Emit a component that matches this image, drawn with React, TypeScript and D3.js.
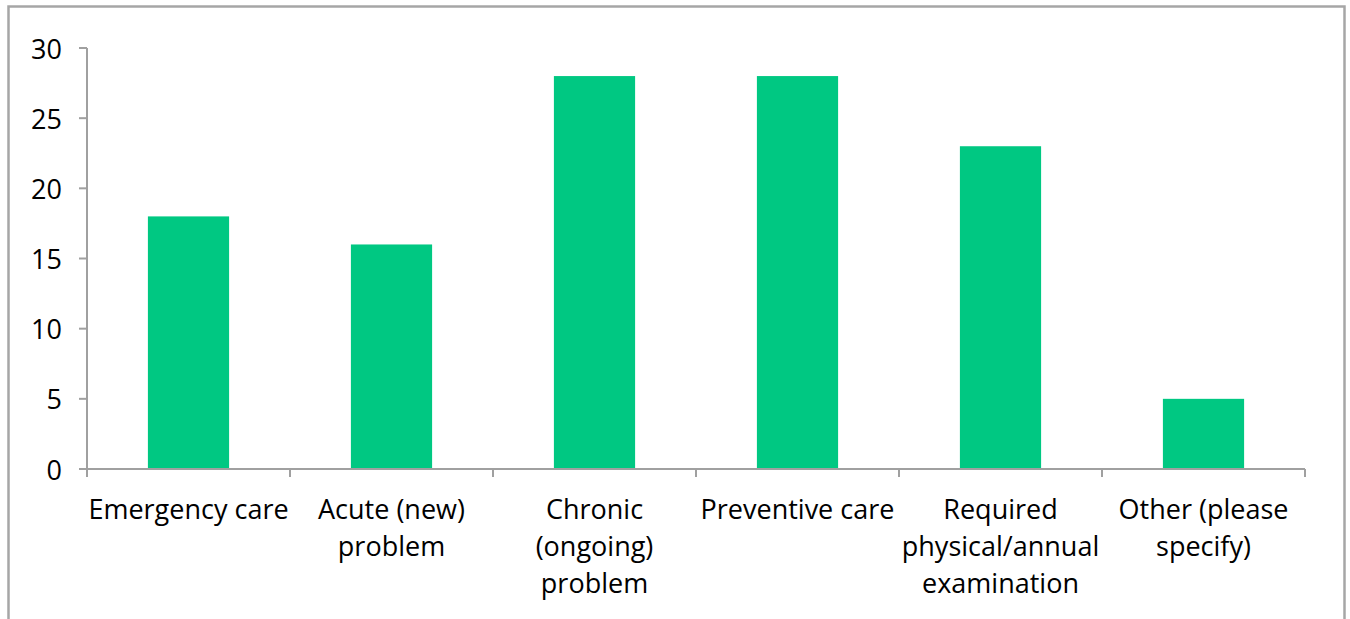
import { useEffect, useRef } from "react";
import * as d3 from "d3";

const categories = [
  "Emergency care",
  "Acute (new) problem",
  "Chronic (ongoing) problem",
  "Preventive care",
  "Required physical/annual examination",
  "Other (please specify)",
];
const categoryLines = [
  ["Emergency care"],
  ["Acute (new)", "problem"],
  ["Chronic", "(ongoing)", "problem"],
  ["Preventive care"],
  ["Required", "physical/annual", "examination"],
  ["Other (please", "specify)"],
];
const values = [18, 16, 28, 28, 23, 5];
const yTicks = [0, 5, 10, 15, 20, 25, 30];

export default function App() {
  const svgRef = useRef<SVGSVGElement>(null);

  useEffect(() => {
    document.body.style.margin = "0";
    if (!svgRef.current) return;
    const width = 1350;
    const height = 619;
    const marginLeft = 87;
    const marginRight = 45;
    const marginTop = 48;
    const axisY = 469;
    const font = "'Open Sans', 'Noto Sans', sans-serif";
    const fontSize = "27px";
    const axisColor = "#a0a0a0";

    const svg = d3.select(svgRef.current);
    svg.selectAll("*").remove();
    svg.attr("width", width).attr("height", height);

    // Outer frame
    svg.append("rect")
      .attr("x", 8.5)
      .attr("y", 6.5)
      .attr("width", 1336)
      .attr("height", 640)
      .attr("fill", "white")
      .attr("stroke", "#a6a6a6")
      .attr("stroke-width", 2.5);

    const x = d3.scaleBand()
      .domain(categories)
      .range([marginLeft, width - marginRight])
      .paddingInner(0.6)
      .paddingOuter(0.3);

    const band = d3.scaleBand()
      .domain(categories)
      .range([marginLeft, width - marginRight]);

    const y = d3.scaleLinear().domain([0, 30]).range([axisY, marginTop]);

    // Bars
    svg.selectAll(".bar")
      .data(values)
      .join("rect")
      .attr("class", "bar")
      .attr("x", (_, i) => x(categories[i]) || 0)
      .attr("y", (d) => y(d))
      .attr("width", x.bandwidth())
      .attr("height", (d) => axisY - y(d))
      .attr("fill", "#00c882");

    // Y axis
    const yAxis = svg.append("g").attr("transform", `translate(${marginLeft},0)`);
    yAxis.append("line")
      .attr("x1", 0).attr("x2", 0)
      .attr("y1", y(30)).attr("y2", axisY)
      .attr("stroke", axisColor).attr("stroke-width", 2);
    yAxis.selectAll(".ytick")
      .data(yTicks)
      .join("line")
      .attr("x1", -8).attr("x2", 0)
      .attr("y1", (d) => y(d)).attr("y2", (d) => y(d))
      .attr("stroke", axisColor).attr("stroke-width", 2);
    yAxis.selectAll(".ylabel")
      .data(yTicks)
      .join("text")
      .attr("x", -25)
      .attr("y", (d) => y(d))
      .attr("text-anchor", "end")
      .attr("dominant-baseline", "central")
      .attr("font-family", font)
      .attr("font-size", fontSize)
      .attr("fill", "#000")
      .text((d) => d);

    // X axis
    svg.append("line")
      .attr("x1", marginLeft - 8).attr("x2", width - marginRight)
      .attr("y1", axisY).attr("y2", axisY)
      .attr("stroke", axisColor).attr("stroke-width", 2);
    const xTickPos = categories.map((c) => band(c) || 0).concat([width - marginRight]);
    svg.selectAll(".xtick")
      .data(xTickPos)
      .join("line")
      .attr("x1", (d) => d).attr("x2", (d) => d)
      .attr("y1", axisY).attr("y2", axisY + 8)
      .attr("stroke", axisColor).attr("stroke-width", 2);

    svg.selectAll(".xlabel")
      .data(categoryLines)
      .join("text")
      .attr("text-anchor", "middle")
      .attr("font-family", font)
      .attr("font-size", fontSize)
      .attr("fill", "#000")
      .each(function (lines, i) {
        const cx = (band(categories[i]) || 0) + band.bandwidth() / 2;
        d3.select(this)
          .selectAll("tspan")
          .data(lines)
          .join("tspan")
          .attr("x", cx)
          .attr("y", (_, j) => 508 + j * 37)
          .attr("dominant-baseline", "central")
          .text((d) => d);
      });
  }, []);

  return <svg ref={svgRef} style={{ display: "block" }} />;
}
